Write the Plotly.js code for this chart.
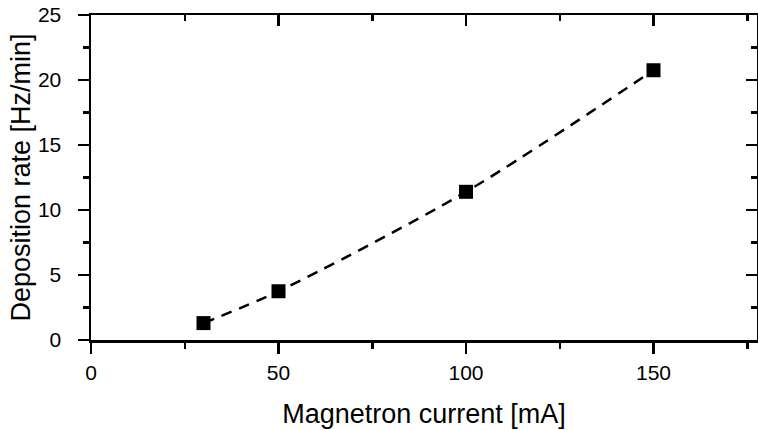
<!DOCTYPE html>
<html><head><meta charset="utf-8">
<script src="https://cdn.plot.ly/plotly-3.0.1.min.js"></script>
<style>html,body{margin:0;padding:0;background:#fff;}#chart{width:758px;height:430px;}</style>
</head><body><div id="chart"></div>
<script>
const current = [30, 50, 100, 150];
const rate = [1.3, 3.75, 11.4, 20.75];
const xRange = [0, 177.6];
const yRange = [0, 25];
const xTitle = 'Magnetron current [mA]';
const yTitle = 'Deposition rate [Hz/min]';

const font = 'Liberation Sans, Arial, sans-serif';
const traces = [{
  x: current, y: rate, type: 'scatter', mode: 'lines+markers',
  line: {color: '#000', width: 2.5, dash: '11px,8px', shape: 'spline', smoothing: 0.8},
  marker: {symbol: 'square', size: 14, color: '#000'},
  cliponaxis: false, showlegend: false
}];
const base = {showgrid: false, zeroline: false, showline: true, linecolor: '#000', linewidth: 2.5,
  tickcolor: '#000', tickwidth: 2.5, ticklen: 11,
  minor: {ticks: 'outside', ticklen: 6, tickwidth: 2.5, tickcolor: '#000'},
  tickfont: {family: font, size: 21, color: '#000'}};
const layout = {
  width: 758, height: 430,
  margin: {l: 91, r: 1, t: 15, b: 90},
  paper_bgcolor: '#fff', plot_bgcolor: '#fff',
  xaxis: Object.assign({}, base, {range: xRange, dtick: 50, tick0: 0, ticks: 'outside',
    ticklabelstandoff: 1,
    minor: Object.assign({}, base.minor, {dtick: 25}),
    title: {text: xTitle, font: {family: font, size: 27, color: '#000'}, standoff: 22}}),
  yaxis: Object.assign({}, base, {range: yRange, dtick: 5, tick0: 0, ticks: 'outside',
    ticklabelstandoff: 12,
    minor: Object.assign({}, base.minor, {dtick: 2.5}),
    title: {text: yTitle, font: {family: font, size: 27, color: '#000'}, standoff: 0}}),
  xaxis2: Object.assign({}, base, {range: xRange, dtick: 50, tick0: 0, ticks: 'inside', overlaying: 'x', side: 'top',
    showticklabels: false, minor: Object.assign({}, base.minor, {dtick: 25, ticks: 'inside'})}),
  yaxis2: Object.assign({}, base, {range: yRange, dtick: 5, tick0: 0, ticks: 'inside', overlaying: 'y', side: 'right',
    showticklabels: false, minor: Object.assign({}, base.minor, {dtick: 2.5, ticks: 'inside'})})
};
traces.push({x: [null], y: [null], xaxis: 'x2', yaxis: 'y2', type: 'scatter', mode: 'markers', showlegend: false, hoverinfo: 'skip'});
Plotly.newPlot('chart', traces, layout, {displayModeBar: false, staticPlot: true});
</script></body></html>
